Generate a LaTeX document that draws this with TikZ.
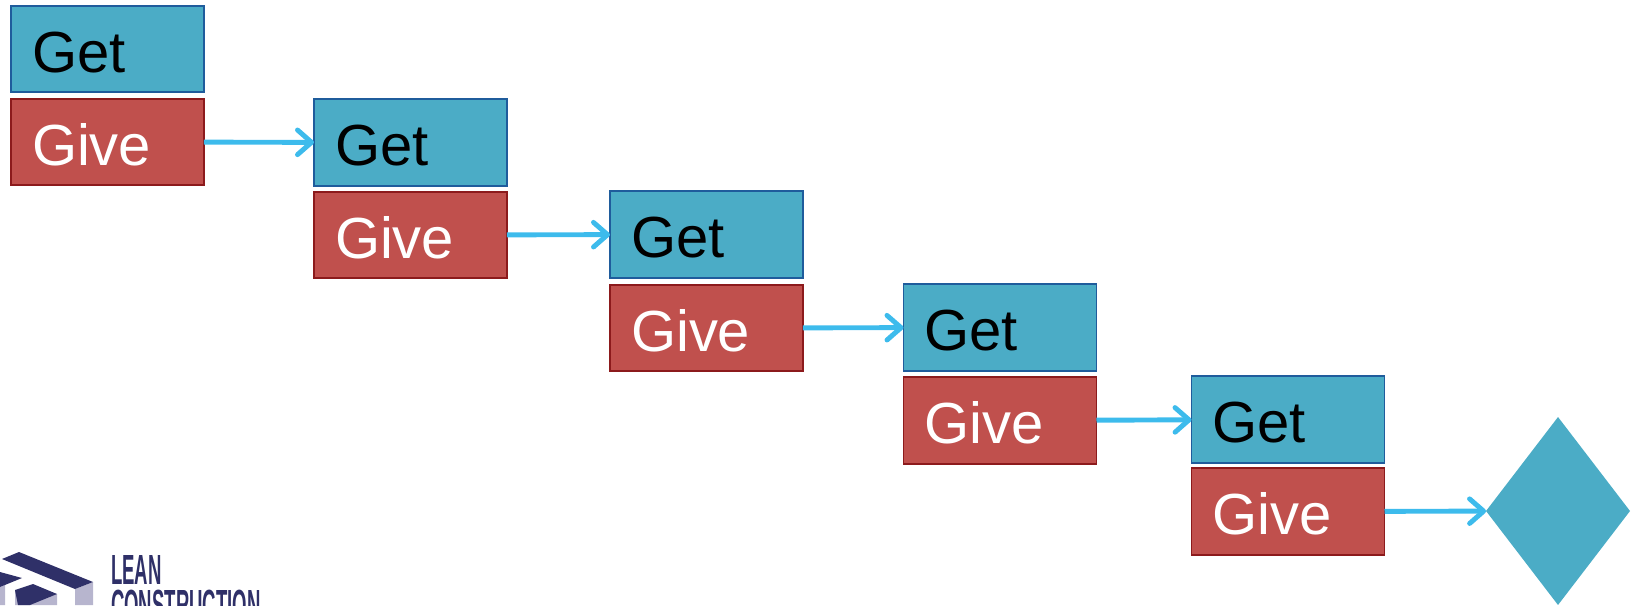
\documentclass[tikz,border=0pt]{standalone}
\usepackage{fontspec}
\setmainfont{Liberation Sans}
\usetikzlibrary{arrows.meta,shapes.geometric}
\definecolor{getfill}{HTML}{4BACC6}
\definecolor{getline}{HTML}{1F5C9C}
\definecolor{givefill}{HTML}{C0504D}
\definecolor{giveline}{HTML}{8C1A1C}
\definecolor{flowcol}{HTML}{3DBBEC}
\definecolor{logocol}{HTML}{2F3068}
\definecolor{logoside}{HTML}{B7B5CE}
\tikzset{
    cardbox/.style={minimum width=3.86cm, minimum height=1.73cm, inner sep=0pt, outer sep=0pt, line width=0.95pt,
        text width=3.02cm, text height=26.3pt, text depth=0pt, align=left, font=\fontsize{33}{36}\selectfont},
    getbox/.style={cardbox, draw=getline, fill=getfill, text=black},
    givebox/.style={cardbox, draw=giveline, fill=givefill, text=white},
    flow/.style={draw=flowcol, line width=2.8pt, -{Straight Barb[length=8pt, width=14pt, round]}},
    logotext/.style={text=logocol, inner sep=0pt, anchor=base west, xscale=0.44, font=\fontsize{24}{24}\selectfont\bfseries}
}
\begin{document}
\begin{tikzpicture}[x=0.02cm, y=-0.02cm]
    \useasboundingbox (0,0) rectangle (1632,605);
    \clip (0,0) rectangle (1632,605);
    \node [getbox] (get1) at (107.5,49) {Get};
    \node [givebox] (give1) at (107.5,142) {Give};
    \node [getbox] (get2) at (410.5,142.5) {Get};
    \node [givebox] (give2) at (410.5,235) {Give};
    \node [getbox] (get3) at (706.5,234.5) {Get};
    \node [givebox] (give3) at (706.5,328) {Give};
    \node [getbox] (get4) at (1000,327.5) {Get};
    \node [givebox] (give4) at (1000,420.5) {Give};
    \node [getbox] (get5) at (1288,419.5) {Get};
    \node [givebox] (give5) at (1288,511.5) {Give};
    \node [diamond, fill=getfill, inner sep=0pt, outer sep=0pt, minimum width=2.88cm, minimum height=3.76cm] (goal) at (1558,511) {};
    \draw [flow] (give1) -- (get2);
    \draw [flow] (give2) -- (get3);
    \draw [flow] (give3) -- (get4);
    \draw [flow] (give4) -- (get5);
    \draw [flow] (give5) -- (goal);
    % logo
    \fill [logoside] (75,589) -- (93,582) -- (93,605) -- (75,605) -- cycle;
    \fill [logoside] (0,587) -- (5,585) -- (5,605) -- (0,605) -- cycle;
    \fill [logoside] (15,590) -- (57,594) -- (57,605) -- (15,605) -- cycle;
    \fill [logocol] (2,559) -- (19,552) -- (93,582) -- (75,589) -- cycle;
    \fill [logocol] (0,572) -- (22,578) -- (0,587) -- cycle;
    \fill [logocol] (15,590) -- (33,584) -- (57,594) -- (30,605) -- (18,605) -- cycle;
    \node [logotext] (lean) at (111,584) {LEAN};
    \node [logotext] (construction) at (111,619) {CONSTRUCTION};
\end{tikzpicture}
\end{document}
